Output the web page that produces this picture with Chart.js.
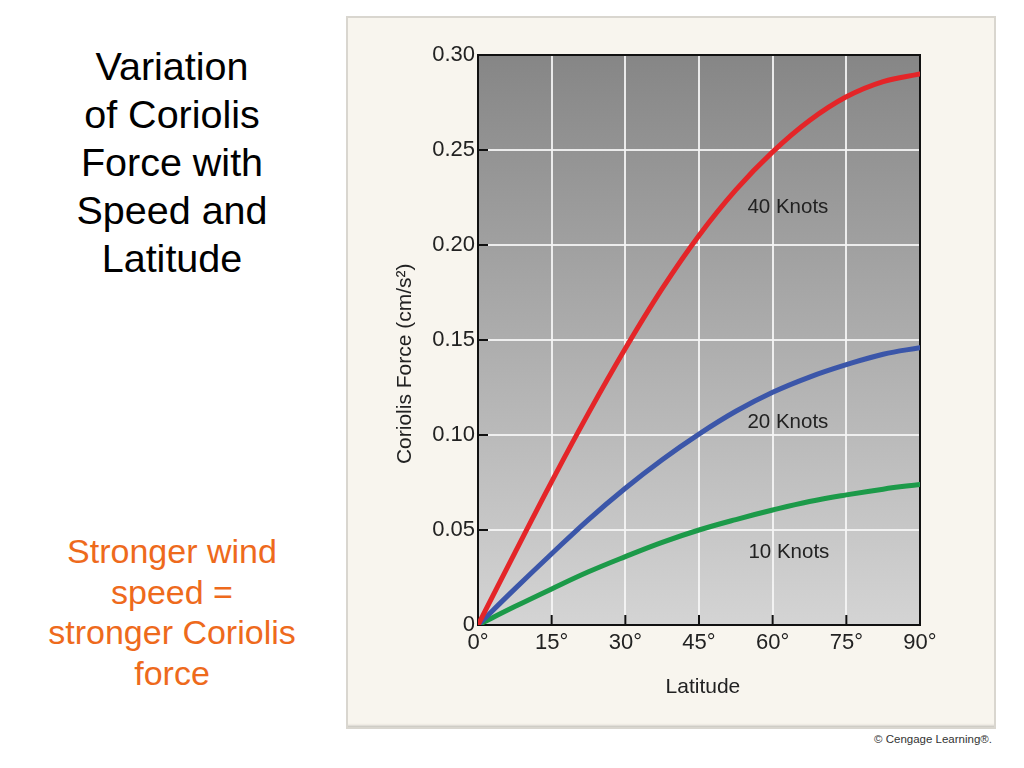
<!DOCTYPE html>
<html>
<head>
<meta charset="utf-8">
<script src="https://cdn.jsdelivr.net/npm/chart.js@4/dist/chart.umd.min.js"></script>
<style>
  html, body { margin:0; padding:0; width:1024px; height:768px; background:#ffffff; overflow:hidden; font-family:"Liberation Sans", Arial, sans-serif; }
  #title { position:absolute; left:22px; top:42px; width:300px; text-align:center; font-size:39.5px; line-height:48px; color:#000; }
  #note { position:absolute; left:22px; top:531px; width:300px; text-align:center; font-size:34px; line-height:40.5px; color:#ee6a1c; }
  #panel { position:absolute; left:346px; top:16px; width:650px; height:713px; background:#f8f5ee; box-shadow: inset 0 0 0 2px #d9d6cf, inset 0 -4px 3px -1px #b9b6b0; }
  #wrap { position:absolute; left:347px; top:16px; width:649px; height:713px; }
  #copy { position:absolute; right:32px; top:733px; font-size:11.5px; color:#333; }
</style>
</head>
<body>
<div id="title">Variation<br>of Coriolis<br>Force with<br>Speed and<br>Latitude</div>
<div id="note">Stronger wind<br>speed =<br>stronger Coriolis<br>force</div>
<div id="panel"></div>
<div id="wrap"><canvas id="c" width="649" height="713"></canvas></div>
<div id="copy">© Cengage Learning®.</div>
<script>
// Data
const latitudes = [0, 7.5, 15, 22.5, 30, 37.5, 45, 52.5, 60, 67.5, 75, 82.5, 90];
const knots40 = [0, 0.038, 0.0755, 0.1115, 0.1455, 0.177, 0.205, 0.229, 0.249, 0.2655, 0.278, 0.286, 0.290];
const knots20 = [0, 0.019, 0.0375, 0.0555, 0.072, 0.087, 0.1005, 0.1125, 0.1225, 0.1305, 0.137, 0.1425, 0.146];
const knots10 = [0, 0.0097, 0.019, 0.028, 0.036, 0.0435, 0.050, 0.0555, 0.0605, 0.065, 0.0685, 0.0715, 0.074];
const seriesNames = ["40 Knots", "20 Knots", "10 Knots"];
const yTickValues = [0, 0.05, 0.10, 0.15, 0.20, 0.25, 0.30];
const xTickValues = [0, 15, 30, 45, 60, 75, 90];
const yAxisTitle = 'Coriolis Force (cm/s²)';
const xAxisTitle = 'Latitude';

const pts = arr => latitudes.map((x, i) => ({ x: x, y: arr[i] }));
const FONT = '"Liberation Sans", Arial, sans-serif';

const panelPlugin = {
  id: 'panelPlugin',
  beforeDraw(chart) {
    const { ctx, chartArea: a } = chart;
    const g = ctx.createLinearGradient(0, a.top, 0, a.bottom);
    g.addColorStop(0, '#868686');
    g.addColorStop(1, '#d4d4d4');
    ctx.save();
    ctx.fillStyle = g;
    ctx.fillRect(a.left, a.top, a.right - a.left, a.bottom - a.top);
    ctx.restore();
  },
  beforeDatasetsDraw(chart) {
    const { ctx, chartArea: a, scales } = chart;
    ctx.save();
    ctx.strokeStyle = '#111';
    ctx.lineWidth = 2;
    ctx.beginPath();
    yTickValues.forEach(v => {
      if (v === 0 || v === 0.30) return;
      const y = scales.y.getPixelForValue(v);
      ctx.moveTo(a.left, y); ctx.lineTo(a.left + 10, y);
    });
    xTickValues.forEach(v => {
      if (v === 0 || v === 90) return;
      const x = scales.x.getPixelForValue(v);
      ctx.moveTo(x, a.bottom); ctx.lineTo(x, a.bottom - 10);
    });
    ctx.stroke();
    ctx.strokeRect(a.left, a.top, a.right - a.left, a.bottom - a.top);
    ctx.restore();
  },
  afterDatasetsDraw(chart) {
    const { ctx, scales, chartArea: a } = chart;
    ctx.save();
    ctx.font = '20.5px ' + FONT;
    ctx.fillStyle = '#222';
    ctx.textAlign = 'center';
    ctx.textBaseline = 'middle';
    const labelSpots = [[63.1, 0.220], [63.1, 0.1065], [63.3, 0.0385]];
    seriesNames.forEach((n, i) => {
      ctx.fillText(n, scales.x.getPixelForValue(labelSpots[i][0]), scales.y.getPixelForValue(labelSpots[i][1]));
    });
    // axis titles
    ctx.font = '21px ' + FONT;
    ctx.fillText(xAxisTitle, scales.x.getPixelForValue(45.8), a.bottom + 62);
    ctx.translate(58, scales.y.getPixelForValue(0.1375));
    ctx.rotate(-Math.PI / 2);
    ctx.fillText(yAxisTitle, 0, 0);
    ctx.restore();
  }
};

const ds = (label, data, color) => ({
  label, data: pts(data), borderColor: color, borderWidth: 5, pointRadius: 0,
  fill: false, tension: 0.4, borderCapStyle: 'round', borderJoinStyle: 'round'
});

new Chart(document.getElementById('c'), {
  type: 'line',
  data: {
    datasets: [
      ds(seriesNames[0], knots40, '#e42528'),
      ds(seriesNames[1], knots20, '#3b56a9'),
      ds(seriesNames[2], knots10, '#1c9a49')
    ]
  },
  plugins: [panelPlugin],
  options: {
    responsive: false,
    animation: false,
    layout: { padding: { left: 0, top: 39, right: 76, bottom: 0 } },
    plugins: { legend: { display: false }, tooltip: { enabled: false } },
    scales: {
      x: {
        type: 'linear', min: 0, max: 90,
        afterFit(s) { s.height = 104; },
        afterBuildTicks(s) { s.ticks = xTickValues.map(v => ({ value: v })); },
        ticks: { callback: v => v + '°', color: '#222', font: { family: FONT, size: 22 }, padding: 5, maxRotation: 0 },
        grid: { color: 'rgba(245,245,245,0.9)', lineWidth: 2, drawTicks: false },
        border: { display: false }
      },
      y: {
        min: 0, max: 0.30,
        afterFit(s) { s.width = 131; },
        afterBuildTicks(s) { s.ticks = yTickValues.map(v => ({ value: v })); },
        ticks: { callback: v => v === 0 ? '0' : v.toFixed(2), color: '#222', font: { family: FONT, size: 22 }, padding: 3 },
        grid: { color: 'rgba(245,245,245,0.9)', lineWidth: 2, drawTicks: false },
        border: { display: false }
      }
    }
  }
});
</script>
</body>
</html>
